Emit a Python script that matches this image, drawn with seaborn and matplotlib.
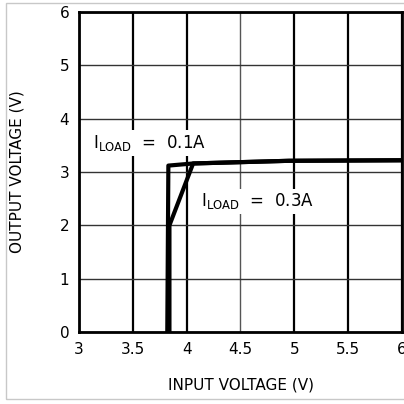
import matplotlib.pyplot as plt
import seaborn as sns
import pandas as pd
from matplotlib.patches import Rectangle

# Curvas (tensão de entrada x tensão de saída)
vin_01 = [3.82, 3.83, 4.06, 4.95, 6.0]
vout_01 = [0.0, 3.12, 3.16, 3.21, 3.22]
vin_03 = [3.84, 3.84, 4.06, 4.95, 6.0]
vout_03 = [0.0, 2.0, 3.16, 3.21, 3.22]

x_ticks = [3, 3.5, 4, 4.5, 5, 5.5, 6]
x_tick_labels = ['3', '3.5', '4', '4.5', '5', '5.5', '6']
y_ticks = [0, 1, 2, 3, 4, 5, 6]

sns.set_style('white')
plt.rcParams['font.family'] = ['Liberation Sans Narrow', 'DejaVu Sans']
plt.rcParams['text.color'] = 'black'
plt.rcParams['axes.labelcolor'] = 'black'
plt.rcParams['xtick.color'] = 'black'
plt.rcParams['ytick.color'] = 'black'

fig = plt.figure(figsize=(4.04, 4.04), dpi=100)
ax = fig.add_axes([79 / 404, 72 / 404, 323 / 404, 320 / 404])

# moldura cinza clara em volta da figura
fig.patches.append(Rectangle((6 / 404, 5 / 404), 1.2, 396 / 404, transform=fig.transFigure,
                             fill=False, edgecolor='#c8c8c8', lw=1.0))

df01 = pd.DataFrame({'vin': vin_01, 'vout': vout_01})
df03 = pd.DataFrame({'vin': vin_03, 'vout': vout_03})
sns.lineplot(data=df01, x='vin', y='vout', sort=False, estimator=None, color='black', lw=3, ax=ax, zorder=5)
sns.lineplot(data=df03, x='vin', y='vout', sort=False, estimator=None, color='black', lw=3, ax=ax, zorder=5)

ax.set_xlim(3, 6)
ax.set_ylim(0, 6)
ax.set_xticks(x_ticks)
ax.set_xticklabels(x_tick_labels)
ax.set_yticks(y_ticks)
ax.tick_params(length=0, labelsize=11, pad=7)
ax.set_xlabel('INPUT VOLTAGE (V)', fontsize=11, labelpad=15)
ax.set_ylabel('OUTPUT VOLTAGE (V)', fontsize=11, labelpad=25)

ax.grid(True, axis='x', color='black', lw=1.6)
ax.grid(True, axis='y', color='#333333', lw=1.0)
ax.xaxis.get_gridlines()[3].set_color('#555555')
ax.xaxis.get_gridlines()[3].set_linewidth(1.0)
ax.set_axisbelow(True)

for s in ax.spines.values():
    s.set_visible(True)
    s.set_color('black')
    s.set_linewidth(2)

box = dict(facecolor='white', edgecolor='none', pad=2)
ax.text(3.13, 3.55, r'$\mathregular{I_{LOAD}}$  =  0.1A', fontsize=12, va='center', ha='left', bbox=box, zorder=4)
ax.text(4.13, 2.45, r'$\mathregular{I_{LOAD}}$  =  0.3A', fontsize=12, va='center', ha='left', bbox=box, zorder=4)

fig.savefig('out.png', dpi=100)
plt.close()
